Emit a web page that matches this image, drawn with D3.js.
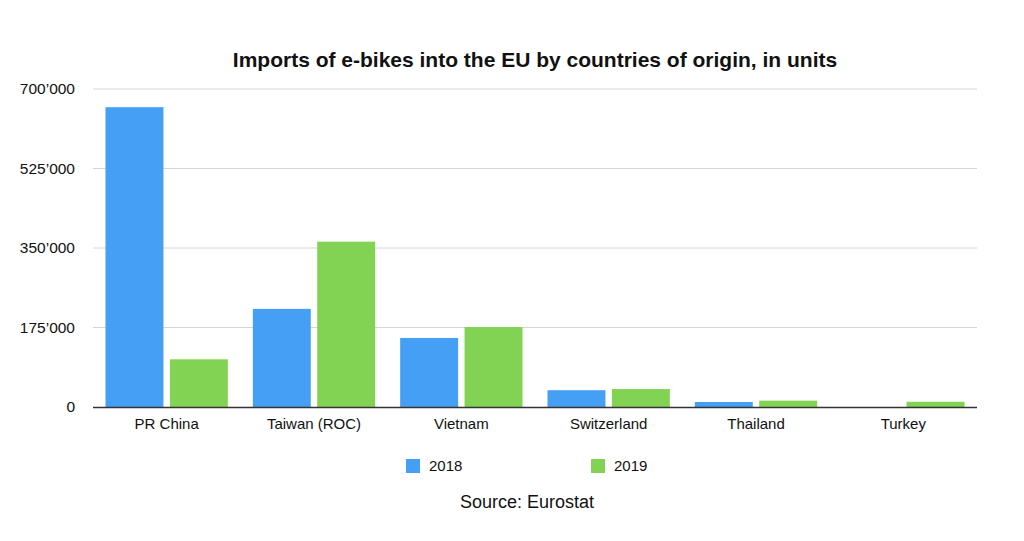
<!DOCTYPE html>
<html>
  <head>
    <meta charset="utf-8" />
    <title>Imports of e-bikes into the EU</title>
    <script src="https://d3js.org/d3.v7.min.js"></script>
    <style>
      body {
          margin: 0;
          background: #fff;
      }
      text {
          font-family: "Liberation Sans", Arial, Helvetica, sans-serif;
          fill: #111;
      }
    </style>
  </head>
  <body>

    <svg id="barchart"></svg>

    <script>
        // data
        var countries = ["PR China", "Taiwan (ROC)", "Vietnam", "Switzerland", "Thailand", "Turkey"];
        var years = ["2018", "2019"];
        var units2018 = [660000, 216000, 152000, 37000, 11000, 0];
        var units2019 = [105000, 364000, 176000, 39500, 14000, 11500];
        var yTicks = [0, 175000, 350000, 525000, 700000];
        var colors = ["#459ff5", "#82d353"];

        var width = 1024;
        var height = 541;
        var margin = {top: 89, right: 47, bottom: 134, left: 93};
        var chartWidth = width - margin.left - margin.right;
        var chartHeight = height - margin.top - margin.bottom;

        var svg = d3.select("#barchart")
          .attr("width", width)
          .attr("height", height);

        var data = countries.map(function(c, i) {
            return {country: c, values: [units2018[i], units2019[i]]};
        });

        var x = d3.scaleBand()
          .domain(countries)
          .range([margin.left, margin.left + chartWidth])
          .paddingInner(0)
          .paddingOuter(0);

        var inner = d3.scaleBand()
          .domain(years)
          .range([12.5, x.bandwidth() - 12.5])
          .paddingInner(0.1);

        var y = d3.scaleLinear()
          .domain([0, 700000])
          .range([margin.top + chartHeight, margin.top]);

        var fmt = function(d) {
            return d === 0 ? "0" : d3.format(",")(d).replace(/,/g, "\u2019");
        };

        // gridlines
        svg.append("g")
          .selectAll("line")
          .data(yTicks.filter(function(d) { return d > 0; }))
          .enter().append("line")
          .attr("x1", margin.left)
          .attr("x2", margin.left + chartWidth)
          .attr("y1", function(d) { return y(d); })
          .attr("y2", function(d) { return y(d); })
          .attr("stroke", "#d6d6d6")
          .attr("stroke-width", 1);

        // y labels
        svg.append("g")
          .selectAll("text")
          .data(yTicks)
          .enter().append("text")
          .attr("x", 75)
          .attr("y", function(d) { return y(d); })
          .attr("dy", "0.35em")
          .attr("text-anchor", "end")
          .style("font-size", "15.5px")
          .text(fmt);

        // bars
        var groups = svg.append("g")
          .selectAll("g")
          .data(data)
          .enter().append("g")
          .attr("transform", function(d) { return "translate(" + x(d.country) + ",0)"; });

        groups.selectAll("rect")
          .data(function(d) { return d.values.map(function(v, i) { return {year: years[i], value: v, i: i}; }); })
          .enter().append("rect")
          .attr("x", function(d) { return inner(d.year); })
          .attr("width", inner.bandwidth())
          .attr("y", function(d) { return y(d.value); })
          .attr("height", function(d) { return y(0) - y(d.value); })
          .attr("fill", function(d) { return colors[d.i]; });

        // x axis
        svg.append("line")
          .attr("x1", margin.left)
          .attr("x2", margin.left + chartWidth)
          .attr("y1", y(0) + 0.5)
          .attr("y2", y(0) + 0.5)
          .attr("stroke", "#333")
          .attr("stroke-width", 1.5);

        svg.append("g")
          .selectAll("text")
          .data(countries)
          .enter().append("text")
          .attr("x", function(d) { return x(d) + x.bandwidth() / 2; })
          .attr("y", y(0) + 22)
          .attr("text-anchor", "middle")
          .style("font-size", "15px")
          .text(function(d) { return d; });

        // title
        svg.append("text")
          .attr("x", 535)
          .attr("y", 67)
          .attr("text-anchor", "middle")
          .style("font-size", "21px")
          .style("font-weight", "bold")
          .text("Imports of e-bikes into the EU by countries of origin, in units");

        // legend
        var legendX = [406, 591];
        var legend = svg.append("g")
          .selectAll("g")
          .data(years)
          .enter().append("g")
          .attr("transform", function(d, i) { return "translate(" + legendX[i] + ",459)"; });

        legend.append("rect")
          .attr("width", 14)
          .attr("height", 14)
          .attr("fill", function(d, i) { return colors[i]; });

        legend.append("text")
          .attr("x", 23)
          .attr("y", 7)
          .attr("dy", "0.35em")
          .style("font-size", "15px")
          .text(function(d) { return d; });

        // source
        svg.append("text")
          .attr("x", 527)
          .attr("y", 508)
          .attr("text-anchor", "middle")
          .style("font-size", "18px")
          .text("Source: Eurostat");
    </script>
  </body>
</html>
